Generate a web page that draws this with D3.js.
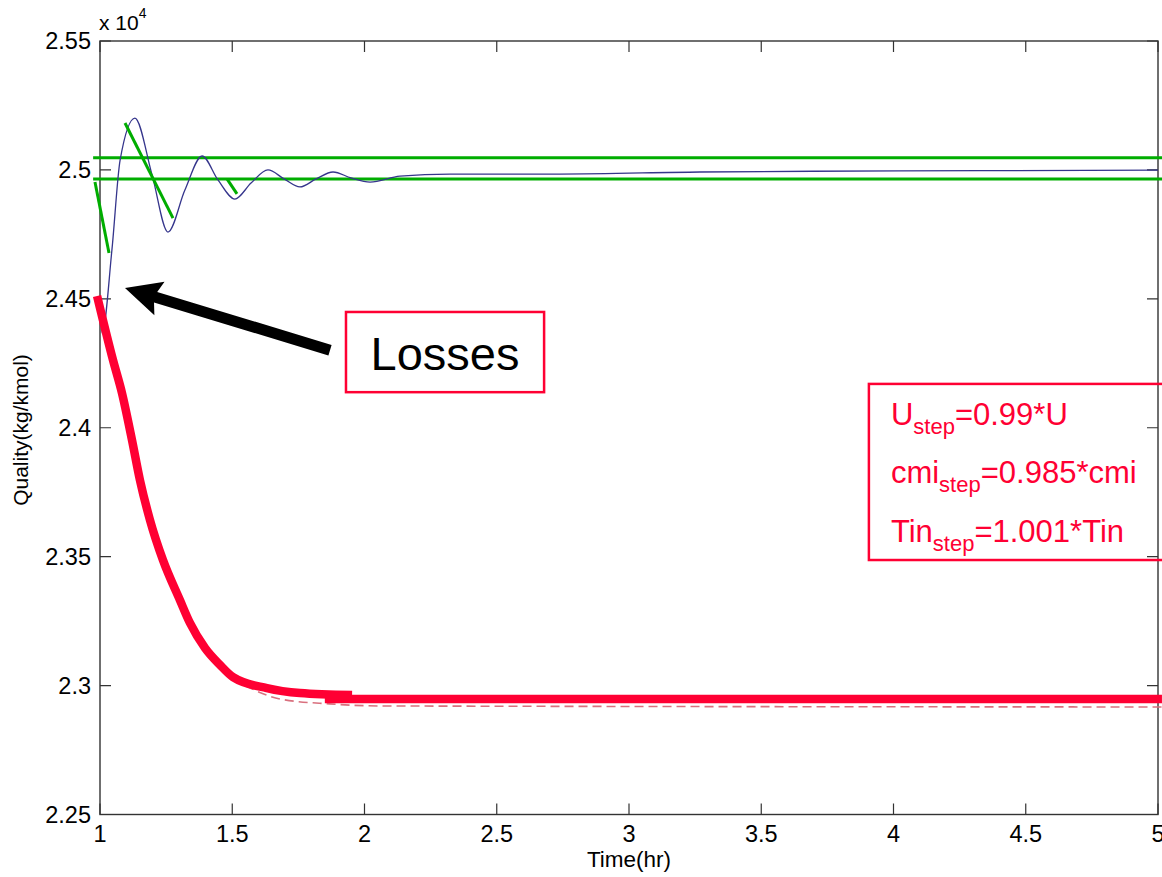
<!DOCTYPE html>
<html>
<head>
<meta charset="utf-8">
<script src="https://cdn.jsdelivr.net/npm/d3@7"></script>
<style>
  body { margin: 0; background: #fff; }
  text { font-family: "Liberation Sans", Arial, sans-serif; }
</style>
</head>
<body>
<div id="chart"></div>
<script>
// values (quality in units of 10^4 kg/kmol)
var xTicks = [1, 1.5, 2, 2.5, 3, 3.5, 4, 4.5, 5];
var yTicks = [2.25, 2.3, 2.35, 2.4, 2.45, 2.5, 2.55];

// blue response
var blueTime = [1.000, 1.008, 1.045, 1.076, 1.132, 1.197, 1.257, 1.321, 1.386, 1.446, 1.510,
                1.571, 1.635, 1.696, 1.756, 1.817, 1.881, 1.949, 2.021, 2.134, 2.323, 2.739,
                3.268, 4.025, 5.000];
var blueQuality = [2.4503, 2.4367, 2.4689, 2.5038, 2.5201, 2.4980, 2.4759, 2.4922, 2.5054, 2.4961, 2.4887,
                   2.4949, 2.5000, 2.4965, 2.4934, 2.4965, 2.4992, 2.4969, 2.4953, 2.4976, 2.4984, 2.4984,
                   2.4992, 2.4996, 2.4999];

// thick red response (first part, then the flat part)
var redTime = [0.989, 1.049, 1.083, 1.121, 1.151, 1.189, 1.238, 1.302, 1.340, 1.397, 1.454,
               1.503, 1.631, 1.756, 1.953];
var redQuality = [2.4511, 2.4263, 2.4135, 2.3952, 2.3797, 2.3642, 2.3487, 2.3332, 2.3243, 2.3146, 2.3080,
                  2.3033, 2.2990, 2.2971, 2.2963];
var redFlatTime = [1.850, 5.015];
var redFlatQuality = [2.2948, 2.2948];

// thin dashed red
var dashTime = [1.503, 1.681, 1.867, 2.059, 5.015];
var dashQuality = [2.3025, 2.2948, 2.2929, 2.2921, 2.2917];

// green band and decay markers
var bandQuality = [2.5047, 2.4965];
var bandTime = [0.974, 5.02];
var decayTime = [[0.981, 1.034], [1.0945, 1.276], [1.480, 1.518]];
var decayQuality = [[2.4953, 2.4678], [2.5182, 2.4813], [2.4965, 2.4907]];

// annotations
var arrowTip = [1.0945, 2.4542], arrowTail = [1.8696, 2.4301];
var lossBox = [1.930, 2.4449, 2.679, 2.4138];
var legendBox = [3.907, 2.4170, 5.05, 2.3487];
var legendRows = [
  {main: "U", sub: "step", rest: "=0.99*U"},
  {main: "cmi", sub: "step", rest: "=0.985*cmi"},
  {main: "Tin", sub: "step", rest: "=1.001*Tin"}
];

var red = "#ff0033", green = "#00ad00", blue = "#35358c";

var margin = {top: 41, right: 4, bottom: 62.5, left: 100},
    W = 1162, H = 877,
    width = W - margin.left - margin.right,
    height = H - margin.top - margin.bottom;

var svg = d3.select("#chart").append("svg")
    .attr("width", W).attr("height", H);
var g = svg.append("g")
    .attr("transform", "translate(" + margin.left + "," + margin.top + ")");

var x = d3.scaleLinear().domain([1, 5]).range([0, width]);
var y = d3.scaleLinear().domain([2.25, 2.55]).range([height, 0]);

// frame with short inward ticks on all four sides
var tickLen = 11;
var fmt = function(d) { return String(+d.toFixed(2)); };
var tickPath = "";
xTicks.forEach(function(t) {
  tickPath += "M" + x(t) + "," + height + "v" + (-tickLen);
  tickPath += "M" + x(t) + ",0v" + tickLen;
});
yTicks.forEach(function(q) {
  tickPath += "M0," + y(q) + "h" + tickLen;
  tickPath += "M" + width + "," + y(q) + "h" + (-tickLen);
});
g.append("path").attr("d", tickPath).attr("fill", "none")
  .attr("stroke", "#333").attr("stroke-width", 1.2);
g.append("rect").attr("width", width).attr("height", height)
  .attr("fill", "none").attr("stroke", "#333").attr("stroke-width", 1.4);

g.selectAll(".xlab").data(xTicks).enter().append("text")
  .attr("class", "xlab")
  .attr("x", function(d) { return x(d); }).attr("y", height + 27).attr("text-anchor", "middle")
  .attr("font-size", 23.5).text(fmt);
g.selectAll(".ylab").data(yTicks).enter().append("text")
  .attr("class", "ylab")
  .attr("x", -9).attr("y", function(d) { return y(d); }).attr("dy", "0.35em").attr("text-anchor", "end")
  .attr("font-size", 23.5).text(fmt);

// x 10^4 label
var expo = svg.append("text").attr("x", 99).attr("y", 30).attr("font-size", 21);
expo.append("tspan").text("x 10");
expo.append("tspan").attr("dy", -12).attr("font-size", 14).text("4");

// axis titles
svg.append("text").attr("x", margin.left + width / 2).attr("y", 867)
  .attr("text-anchor", "middle").attr("font-size", 22.5).text("Time(hr)");
svg.append("text").attr("transform", "translate(28,430) rotate(-90)")
  .attr("text-anchor", "middle").attr("font-size", 21).text("Quality(kg/kmol)");

function pts(ts, qs) { return ts.map(function(t, i) { return [t, qs[i]]; }); }
var curve = d3.line().x(function(d) { return x(d[0]); }).y(function(d) { return y(d[1]); })
  .curve(d3.curveMonotoneX);
var straight = d3.line().x(function(d) { return x(d[0]); }).y(function(d) { return y(d[1]); });

// green band
bandQuality.forEach(function(q) {
  g.append("path").datum(pts(bandTime, [q, q]))
    .attr("d", straight).attr("fill", "none").attr("stroke", green).attr("stroke-width", 3);
});

// blue response
g.append("path").datum(pts(blueTime, blueQuality))
  .attr("d", curve).attr("fill", "none").attr("stroke", blue).attr("stroke-width", 1.3);

// green decay markers
decayTime.forEach(function(ts, i) {
  g.append("path").datum(pts(ts, decayQuality[i]))
    .attr("d", straight).attr("fill", "none").attr("stroke", green).attr("stroke-width", 3);
});

// dashed red
g.append("path").datum(pts(dashTime, dashQuality))
  .attr("d", curve).attr("fill", "none").attr("stroke", "#d9707e")
  .attr("stroke-width", 1.6).attr("stroke-dasharray", "9,5");

// thick red
g.append("path").datum(pts(redFlatTime, redFlatQuality))
  .attr("d", straight).attr("fill", "none").attr("stroke", red).attr("stroke-width", 8.5);
g.append("path").datum(pts(redTime, redQuality))
  .attr("d", curve).attr("fill", "none").attr("stroke", red).attr("stroke-width", 8.5);

// arrow pointing at the losses
var tip = [x(arrowTip[0]), y(arrowTip[1])], tail = [x(arrowTail[0]), y(arrowTail[1])];
var ddx = tail[0] - tip[0], ddy = tail[1] - tip[1], len = Math.sqrt(ddx * ddx + ddy * ddy);
var ux = ddx / len, uy = ddy / len, nx = -uy, ny = ux;
var headLen = 36, headW = 17.5, shaftW = 5.5;
var hb = [tip[0] + ux * headLen, tip[1] + uy * headLen];
var arrowPts = [
  tip,
  [hb[0] + nx * headW, hb[1] + ny * headW],
  [hb[0] - ux * 4 + nx * shaftW, hb[1] - uy * 4 + ny * shaftW],
  [tail[0] + nx * shaftW, tail[1] + ny * shaftW],
  [tail[0] - nx * shaftW, tail[1] - ny * shaftW],
  [hb[0] - ux * 4 - nx * shaftW, hb[1] - uy * 4 - ny * shaftW],
  [hb[0] - nx * headW, hb[1] - ny * headW]
];
g.append("polygon").attr("points", arrowPts.map(function(p) { return p.join(","); }).join(" "))
  .attr("fill", "#000");

// "Losses" box
g.append("rect")
  .attr("x", x(lossBox[0])).attr("y", y(lossBox[1]))
  .attr("width", x(lossBox[2]) - x(lossBox[0])).attr("height", y(lossBox[3]) - y(lossBox[1]))
  .attr("fill", "#fff").attr("stroke", red).attr("stroke-width", 2.5);
g.append("text")
  .attr("x", (x(lossBox[0]) + x(lossBox[2])) / 2).attr("y", y(lossBox[1]) + 58)
  .attr("text-anchor", "middle").attr("font-size", 47).attr("fill", "#000").text("Losses");

// step legend box
g.append("rect")
  .attr("x", x(legendBox[0])).attr("y", y(legendBox[1]))
  .attr("width", x(legendBox[2]) - x(legendBox[0])).attr("height", y(legendBox[3]) - y(legendBox[1]))
  .attr("fill", "none").attr("stroke", red).attr("stroke-width", 2.5);
legendRows.forEach(function(r, i) {
  var t = g.append("text")
    .attr("x", x(legendBox[0]) + 22).attr("y", y(legendBox[1]) + 41 + i * 58.5)
    .attr("font-size", 31).attr("fill", red);
  t.append("tspan").text(r.main);
  t.append("tspan").attr("dy", 9).attr("font-size", 22).text(r.sub);
  t.append("tspan").attr("dy", -9).text(r.rest);
});
</script>
</body>
</html>
